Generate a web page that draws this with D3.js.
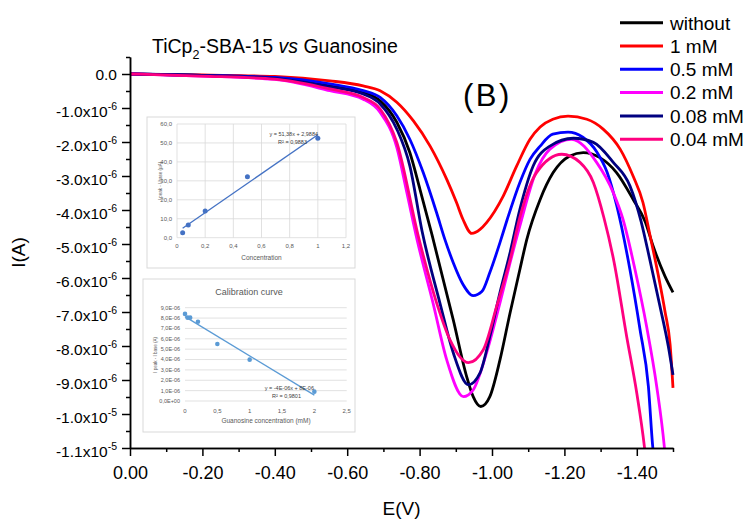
<!DOCTYPE html>
<html><head><meta charset="utf-8">
<script src="https://cdn.jsdelivr.net/npm/d3@7"></script>
<style>
body{margin:0;background:#fff}
svg{display:block}
text{font-family:"Liberation Sans",Arial,sans-serif}
</style>
</head><body>
<svg id="c" width="747" height="520"></svg>
<script>
// ---------------- DATA (E in V, I in µA) ----------------
const seriesNames = ["without","1 mM","0.5 mM","0.2 mM","0.08 mM","0.04 mM"];
const seriesColors = ["#000000","#ff0000","#0000ff","#ff00ff","#000080","#ff0080"];

const E_without = [0,-0.199,-0.40,-0.552,-0.644,-0.691,-0.737,-0.773,-0.801,-0.834,-0.893,-0.930,-0.948,-0.969,-0.994,-1.022,-1.050,-1.077,-1.096,-1.133,-1.169,-1.215,-1.252,-1.298,-1.344,-1.390,-1.423,-1.445,-1.478,-1.5];
const I_without = [0,-0.04,-0.12,-0.35,-0.54,-0.79,-1.42,-2.31,-3.39,-4.72,-7.23,-8.90,-9.49,-9.78,-9.49,-8.41,-7.02,-5.75,-4.87,-3.69,-2.90,-2.41,-2.31,-2.46,-2.90,-3.69,-4.34,-5.06,-5.95,-6.42];

const E_1mM = [0,-0.199,-0.40,-0.552,-0.644,-0.691,-0.737,-0.783,-0.829,-0.875,-0.902,-0.920,-0.944,-0.967,-0.985,-1.031,-1.068,-1.105,-1.133,-1.168,-1.210,-1.262,-1.307,-1.354,-1.390,-1.417,-1.436,-1.459,-1.478,-1.492,-1.5];
const I_1mM = [0,-0.03,-0.07,-0.20,-0.35,-0.49,-0.83,-1.38,-2.12,-3.10,-3.78,-4.28,-4.69,-4.57,-4.37,-3.59,-2.71,-1.92,-1.56,-1.33,-1.24,-1.33,-1.62,-2.21,-3.01,-3.78,-4.72,-5.90,-6.99,-7.96,-9.23];

const E_05mM = [0,-0.199,-0.40,-0.552,-0.644,-0.691,-0.737,-0.773,-0.810,-0.847,-0.870,-0.893,-0.920,-0.948,-0.972,-0.994,-1.022,-1.042,-1.077,-1.105,-1.133,-1.168,-1.210,-1.251,-1.290,-1.318,-1.345,-1.381,-1.409,-1.432,-1.444,-1.453];
const I_05mM = [0,-0.04,-0.10,-0.29,-0.49,-0.69,-1.23,-1.92,-2.90,-4.08,-4.87,-5.55,-6.19,-6.52,-6.40,-5.84,-4.96,-4.28,-3.19,-2.51,-2.12,-1.77,-1.71,-1.86,-2.30,-2.89,-3.89,-5.75,-7.52,-9.19,-10.96,-11.8];

const E_02mM = [0,-0.199,-0.40,-0.552,-0.644,-0.691,-0.737,-0.765,-0.793,-0.837,-0.875,-0.921,-0.948,-0.985,-1.022,-1.050,-1.077,-1.119,-1.160,-1.220,-1.289,-1.335,-1.362,-1.395,-1.427,-1.455,-1.476,-1.483];
const I_02mM = [0,-0.06,-0.16,-0.49,-0.74,-1.13,-2.16,-3.50,-4.87,-6.73,-8.41,-9.49,-9.29,-8.20,-6.73,-5.55,-4.47,-2.95,-2.21,-1.92,-2.60,-3.49,-4.28,-5.75,-7.42,-9.19,-10.96,-11.8];

const E_008mM = [0,-0.199,-0.40,-0.552,-0.644,-0.691,-0.737,-0.773,-0.807,-0.856,-0.893,-0.935,-0.967,-0.994,-1.022,-1.050,-1.077,-1.114,-1.160,-1.225,-1.280,-1.335,-1.381,-1.412,-1.436,-1.464,-1.487,-1.5];
const I_008mM = [0,-0.04,-0.13,-0.38,-0.59,-0.88,-1.62,-2.70,-4.63,-6.73,-8.20,-9.14,-8.79,-7.72,-6.43,-5.25,-3.98,-2.70,-2.12,-1.89,-2.01,-2.60,-3.29,-4.34,-5.46,-6.83,-8.01,-8.85];

const E_004mM = [0,-0.199,-0.40,-0.552,-0.644,-0.691,-0.737,-0.796,-0.847,-0.884,-0.935,-0.976,-1.013,-1.050,-1.077,-1.123,-1.193,-1.243,-1.280,-1.309,-1.337,-1.372,-1.400,-1.421,-1.428];
const I_004mM = [0,-0.06,-0.15,-0.44,-0.69,-1.03,-2.01,-4.75,-6.73,-7.82,-8.49,-8.11,-6.83,-5.46,-4.22,-2.90,-2.36,-2.60,-3.19,-4.22,-5.52,-7.72,-9.39,-10.96,-11.65];

const seriesE = [E_without,E_1mM,E_05mM,E_02mM,E_008mM,E_004mM];
const seriesI = [I_without,I_1mM,I_05mM,I_02mM,I_008mM,I_004mM];

const xMajor = [0,-0.2,-0.4,-0.6,-0.8,-1.0,-1.2,-1.4];
const xMinor = [-0.1,-0.3,-0.5,-0.7,-0.9,-1.1,-1.3,-1.5];
const yMajor = [0,-1,-2,-3,-4,-5,-6,-7,-8,-9,-10,-11];
const yMinor = [0.5,-0.5,-1.5,-2.5,-3.5,-4.5,-5.5,-6.5,-7.5,-8.5,-9.5,-10.5];

// Inset 1 (linear fit vs concentration)
const in1Conc = [0.04,0.08,0.2,0.5,1.0];
const in1Val = [2.6,6.7,14.1,32.2,52.5];
const in1XTicks = [0,0.2,0.4,0.6,0.8,1.0,1.2];
const in1YTicks = [0,10,20,30,40,50,60];
// Inset 2 (calibration curve), values in 1e-6
const in2Conc = [0,0.04,0.08,0.2,0.5,1.0,2.0];
const in2Val = [8.4,8.04,8.04,7.65,5.5,3.99,0.9];
const in2XTicks = [0,0.5,1,1.5,2,2.5];
const in2YTicks = [0,1,2,3,4,5,6,7,8,9];

// ---------------- CHART ----------------
const svg = d3.select("#c");
const L=130,R=673,T=57,B=448;
const x = d3.scaleLinear().domain([0,-1.5]).range([L,R]);
const y = d3.scaleLinear().domain([0.5,-11]).range([T,B]);

svg.append("defs").append("clipPath").attr("id","clip")
  .append("rect").attr("x",L).attr("y",T-5).attr("width",R-L+2).attr("height",B-T+5);

const line = d3.line().x(d=>x(d[0])).y(d=>y(d[1])).curve(d3.curveMonotoneX);
const gLines = svg.append("g").attr("clip-path","url(#clip)");
seriesNames.forEach((n,i)=>{
  const pts = seriesE[i].map((e,k)=>[e,seriesI[i][k]]);
  gLines.append("path").attr("d",line(pts)).attr("fill","none")
    .attr("stroke",seriesColors[i]).attr("stroke-width",2.8).attr("stroke-linejoin","round");
});

// Axes
function styleAxis(g){
  g.select(".domain").attr("stroke","#000").attr("stroke-width",1.5);
  g.selectAll(".tick line").attr("stroke","#000").attr("stroke-width",1.5);
}
const gxm = svg.append("g").attr("transform",`translate(0,${B})`)
  .call(d3.axisBottom(x).tickValues(xMinor).tickSize(4).tickSizeOuter(0).tickFormat(""));
styleAxis(gxm);
const gx = svg.append("g").attr("transform",`translate(0,${B})`)
  .call(d3.axisBottom(x).tickValues(xMajor).tickSize(8).tickSizeOuter(0)
    .tickFormat(d=> d===0 ? "0.00" : d.toFixed(2)));
styleAxis(gx);
gx.selectAll(".tick text").attr("y",31).attr("dy",0).attr("fill","#000").style("font-size","18px");

const gym = svg.append("g").attr("transform",`translate(${L},0)`)
  .call(d3.axisLeft(y).tickValues(yMinor).tickSize(4).tickSizeOuter(0).tickFormat(""));
styleAxis(gym);
const gy = svg.append("g").attr("transform",`translate(${L},0)`)
  .call(d3.axisLeft(y).tickValues(yMajor).tickSize(8).tickPadding(5).tickSizeOuter(0).tickFormat(""));
styleAxis(gy);
function yLab(v){
  if(v===0) return ["0.0",null];
  const a = v*1e-6;
  const e = Math.floor(Math.log10(Math.abs(a))+1e-9);
  const m = a/Math.pow(10,e);
  return [m.toFixed(1)+"x10", String(e)];
}
gy.selectAll(".tick text").each(function(d){
  const t = d3.select(this).text(null).attr("fill","#000").style("font-size","15.5px");
  const [m,e] = yLab(d);
  if(!e){ t.attr("dy","0.35em").text(m); }
  else {
    t.attr("dy",null).attr("y",8.5);
    t.append("tspan").text(m);
    t.append("tspan").attr("dy",-7).style("font-size","10.5px").text(e);
  }
});

// axis titles
svg.append("text").attr("x",(L+R)/2).attr("y",515).attr("text-anchor","middle")
  .style("font-size","19px").text("E(V)");
svg.append("text").attr("transform",`translate(25,${(T+B)/2}) rotate(-90)`).attr("text-anchor","middle")
  .style("font-size","19px").text("I(A)");

// chart title
const tt = svg.append("text").attr("x",152).attr("y",53).style("font-size","19.5px");
tt.append("tspan").text("TiCp");
tt.append("tspan").attr("dy",6).style("font-size","12.5px").text("2");
tt.append("tspan").attr("dy",-6).text("-SBA-15 ");
tt.append("tspan").style("font-style","italic").text("vs");
tt.append("tspan").text(" Guanosine");

svg.append("text").attr("x",463).attr("y",106).style("font-size","31px")
  .style("letter-spacing","2.5px").text("(B)");

// Legend
const lg = svg.append("g");
seriesNames.forEach((n,i)=>{
  const yy = 22.7 + i*23.3;
  lg.append("line").attr("x1",620).attr("x2",663).attr("y1",yy).attr("y2",yy)
    .attr("stroke",seriesColors[i]).attr("stroke-width",3);
  lg.append("text").attr("x",670).attr("y",yy).attr("dy","0.36em")
    .style("font-size","19px").text(n);
});

// ---------------- INSETS ----------------
const comma = f => (d => { const s = d3.format(f)(d); return s.replace(".",","); });

function leastSq(xs, ys){
  const mx = d3.mean(xs), my = d3.mean(ys);
  let sxy=0,sxx=0; xs.forEach((v,i)=>{sxy+=(v-mx)*(ys[i]-my); sxx+=(v-mx)*(v-mx);});
  const s = sxy/sxx; return [s, my - s*mx];
}

// Inset 1
(function(){
  const g = svg.append("g");
  g.append("rect").attr("x",147).attr("y",117).attr("width",208).attr("height",151)
    .attr("fill","#fff").attr("stroke","#d9d9d9").attr("stroke-width",1);
  const xs = d3.scaleLinear().domain([0,1.2]).range([177,346]);
  const ys = d3.scaleLinear().domain([0,60]).range([237.7,124]);
  in1XTicks.forEach(t=>g.append("line").attr("x1",xs(t)).attr("x2",xs(t)).attr("y1",ys(0)).attr("y2",ys(60))
    .attr("stroke","#d9d9d9").attr("stroke-width",0.8));
  in1YTicks.forEach(t=>g.append("line").attr("x1",xs(0)).attr("x2",xs(1.2)).attr("y1",ys(t)).attr("y2",ys(t))
    .attr("stroke","#d9d9d9").attr("stroke-width",0.8));
  const fx = d => d===0||d===1 ? String(d) : comma(".1f")(d);
  in1XTicks.forEach(t=>g.append("text").attr("x",xs(t)).attr("y",248).attr("text-anchor","middle")
    .attr("fill","#595959").style("font-size","6px").text(fx(t)));
  in1YTicks.forEach(t=>g.append("text").attr("x",172).attr("y",ys(t)).attr("dy","0.35em").attr("text-anchor","end")
    .attr("fill","#595959").style("font-size","6px").text(comma(".1f")(t)));
  g.append("text").attr("x",261.5).attr("y",260).attr("text-anchor","middle").attr("fill","#595959")
    .style("font-size","6.5px").text("Concentration");
  g.append("text").attr("transform","translate(162,181) rotate(-90)").attr("text-anchor","middle")
    .attr("fill","#595959").style("font-size","4.5px").text("I peak - I base (µA)");
  const [s,b] = leastSq(in1Conc,in1Val);
  const ext = d3.extent(in1Conc);
  g.append("line").attr("x1",xs(ext[0])).attr("y1",ys(s*ext[0]+b)).attr("x2",xs(ext[1])).attr("y2",ys(s*ext[1]+b))
    .attr("stroke","#4472c4").attr("stroke-width",1.3);
  in1Conc.forEach((c,i)=>g.append("circle").attr("cx",xs(c)).attr("cy",ys(in1Val[i])).attr("r",2.5).attr("fill","#4472c4"));
  g.append("text").attr("x",318).attr("y",136).attr("text-anchor","end").attr("fill","#404040")
    .style("font-size","5.5px").text("y = 51,38x + 2,9884");
  g.append("text").attr("x",307).attr("y",144).attr("text-anchor","end").attr("fill","#404040")
    .style("font-size","5.5px").text("R² = 0,9883");
})();

// Inset 2
(function(){
  const g = svg.append("g");
  g.append("rect").attr("x",143).attr("y",279).attr("width",212).attr("height",153)
    .attr("fill","#fff").attr("stroke","#d9d9d9").attr("stroke-width",1);
  const xs = d3.scaleLinear().domain([0,2.5]).range([185,346.7]);
  const ys = d3.scaleLinear().domain([0,9]).range([401,307.7]);
  in2YTicks.forEach(t=>g.append("line").attr("x1",xs(0)).attr("x2",xs(2.5)).attr("y1",ys(t)).attr("y2",ys(t))
    .attr("stroke","#d9d9d9").attr("stroke-width",0.8));
  g.append("text").attr("x",249).attr("y",295).attr("text-anchor","middle").attr("fill","#595959")
    .style("font-size","9px").text("Calibration curve");
  const fx = d => Number.isInteger(d) ? String(d) : comma(".1f")(d);
  in2XTicks.forEach(t=>g.append("text").attr("x",xs(t)).attr("y",413).attr("text-anchor","middle")
    .attr("fill","#595959").style("font-size","6px").text(fx(t)));
  in2YTicks.forEach(t=>g.append("text").attr("x",180).attr("y",ys(t)).attr("dy","0.35em").attr("text-anchor","end")
    .attr("fill","#595959").style("font-size","5.5px").text(t===0 ? "0,0E+00" : comma(".1f")(t)+"E-06"));
  g.append("text").attr("x",266).attr("y",423).attr("text-anchor","middle").attr("fill","#595959")
    .style("font-size","6.5px").text("Guanosine concentration (mM)");
  g.append("text").attr("transform","translate(157,355) rotate(-90)").attr("text-anchor","middle")
    .attr("fill","#595959").style("font-size","4.5px").text("I peak - I base (A)");
  const [s,b] = leastSq(in2Conc,in2Val);
  const ext = d3.extent(in2Conc);
  g.append("line").attr("x1",xs(ext[0])).attr("y1",ys(s*ext[0]+b)).attr("x2",xs(ext[1])).attr("y2",ys(s*ext[1]+b))
    .attr("stroke","#5b9bd5").attr("stroke-width",1.3);
  in2Conc.forEach((c,i)=>g.append("circle").attr("cx",xs(c)).attr("cy",ys(in2Val[i])).attr("r",2.3).attr("fill","#5b9bd5"));
  g.append("text").attr("x",314).attr("y",390).attr("text-anchor","end").attr("fill","#404040")
    .style("font-size","5.5px").text("y = -4E-06x + 8E-06");
  g.append("text").attr("x",301).attr("y",398).attr("text-anchor","end").attr("fill","#404040")
    .style("font-size","5.5px").text("R² = 0,9801");
})();
</script>
</body></html>
